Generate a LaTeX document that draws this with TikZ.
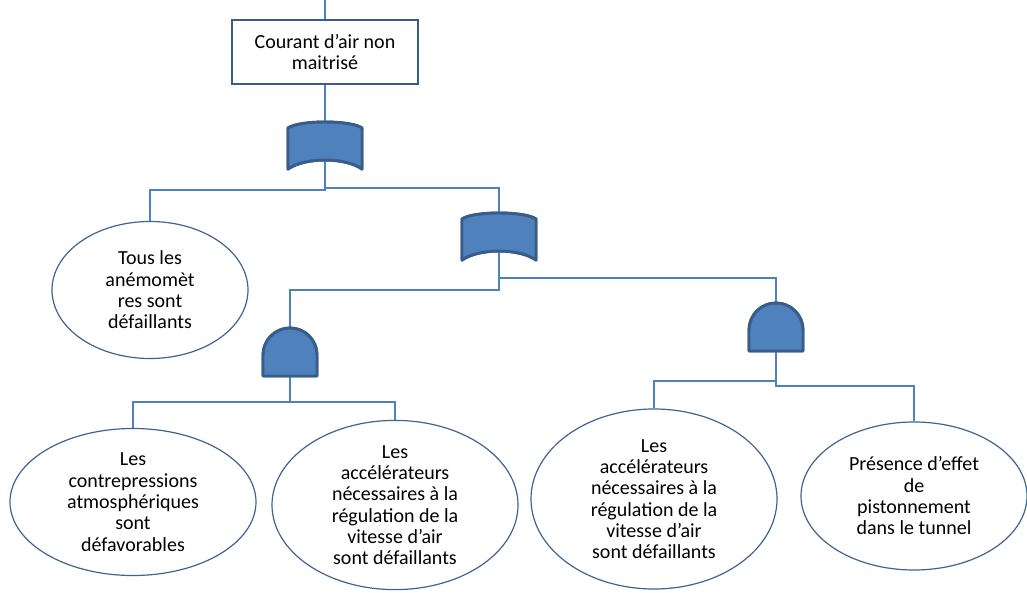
\documentclass[tikz,border=0pt]{standalone}
\usepackage{fontspec}
\setmainfont{Carlito}
\usetikzlibrary{shapes.geometric}
\definecolor{linec}{HTML}{4F81BD}
\definecolor{gatefill}{HTML}{4F81BD}
\definecolor{gatebord}{HTML}{385D8A}
\definecolor{ellbord}{HTML}{3F6493}
\tikzset{
  conn/.style={draw=linec, line width=1.4pt},
  gatesty/.style={fill=gatefill, draw=gatebord, line width=2.2pt, line join=round},
  evt/.style={ellipse, draw=ellbord, line width=0.9pt, inner sep=0pt, align=center,
    font=\fontsize{15}{16}\selectfont},
  topbox/.style={rectangle, draw=gatebord, line width=1.1pt, inner sep=0pt, align=center,
    font=\fontsize{15}{16}\selectfont, minimum width=139.5pt, minimum height=48pt},
  pics/orgate/.style={code={
    \draw[gatesty] (-37,-17) .. controls (-25,-25) and (25,-25) .. (37,-17)
      -- (37,24) .. controls (20,12) and (-20,12) .. (-37,24) -- cycle;
    \coordinate (-t) at (0,-23);
    \coordinate (-b) at (0,15);
  }},
  pics/andgate/.style={code={
    \draw[gatesty] (-27,24) -- (-27,3) .. controls (-27,-11.9) and (-14.9,-24) .. (0,-24)
      .. controls (14.9,-24) and (27,-11.9) .. (27,3) -- (27,24) -- cycle;
    \coordinate (-t) at (0,-24);
    \coordinate (-b) at (0,24);
  }}
}
\begin{document}
\begin{tikzpicture}[x=0.75pt,y=-0.75pt]
\useasboundingbox (0,0) rectangle (1027,592);
\fill[white] (0,0) rectangle (1027,592);

% top event
\coordinate (top) at (325,0);
\node[topbox] (box) at (325,52) {Courant d’air non\\maitrisé};

% gate anchors
\pic (g1) at (325,145) {orgate};
\pic (g2) at (499,236) {orgate};
\pic (g3) at (290,352) {andgate};
\pic (g4) at (776,327) {andgate};

% basic events
\node[evt, minimum width=147pt, minimum height=102.75pt] (e1) at (150,290)
  {Tous les\\anémomèt\\res sont\\défaillants};
\node[evt, minimum width=184.5pt, minimum height=110.25pt] (e2) at (133,502)
  {Les\\contrepressions\\atmosphériques\\sont\\défavorables};
\node[evt, minimum width=184.5pt, minimum height=116.25pt] (e3) at (395,505)
  {Les\\accélérateurs\\nécessaires à la\\régulation de la\\vitesse d’air\\sont défaillants};
\node[evt, minimum width=184.5pt, minimum height=135pt] (e4) at (654,499)
  {Les\\accélérateurs\\nécessaires à la\\régulation de la\\vitesse d’air\\sont défaillants};
\node[evt, minimum width=169.5pt, minimum height=111pt] (e5) at (914,496)
  {Présence d’effet\\de\\pistonnement\\dans le tunnel};

% connectors
\draw[conn] (top) -- (box.north);
\draw[conn] (box.south) -- (g1-t);
\draw[conn] (g1-b) -- ++(0,30) -| (e1.north);
\draw[conn] (g1-b) -- ++(0,28) -| (g2-t);
\draw[conn] (g2-b) -- ++(0,39) -| (g3-t);
\draw[conn] (g2-b) -- ++(0,27) -| (g4-t);
\draw[conn] (g3-b) -- ++(0,26) -| (e2.north);
\draw[conn] (g3-b) -- ++(0,26) -| (e3.north);
\draw[conn] (g4-b) -- ++(0,30) -| (e4.north);
\draw[conn] (g4-b) -- ++(0,35) -| (e5.north);

% redraw gates on top of connectors
\pic at (325,145) {orgate};
\pic at (499,236) {orgate};
\pic at (290,352) {andgate};
\pic at (776,327) {andgate};
\end{tikzpicture}
\end{document}
